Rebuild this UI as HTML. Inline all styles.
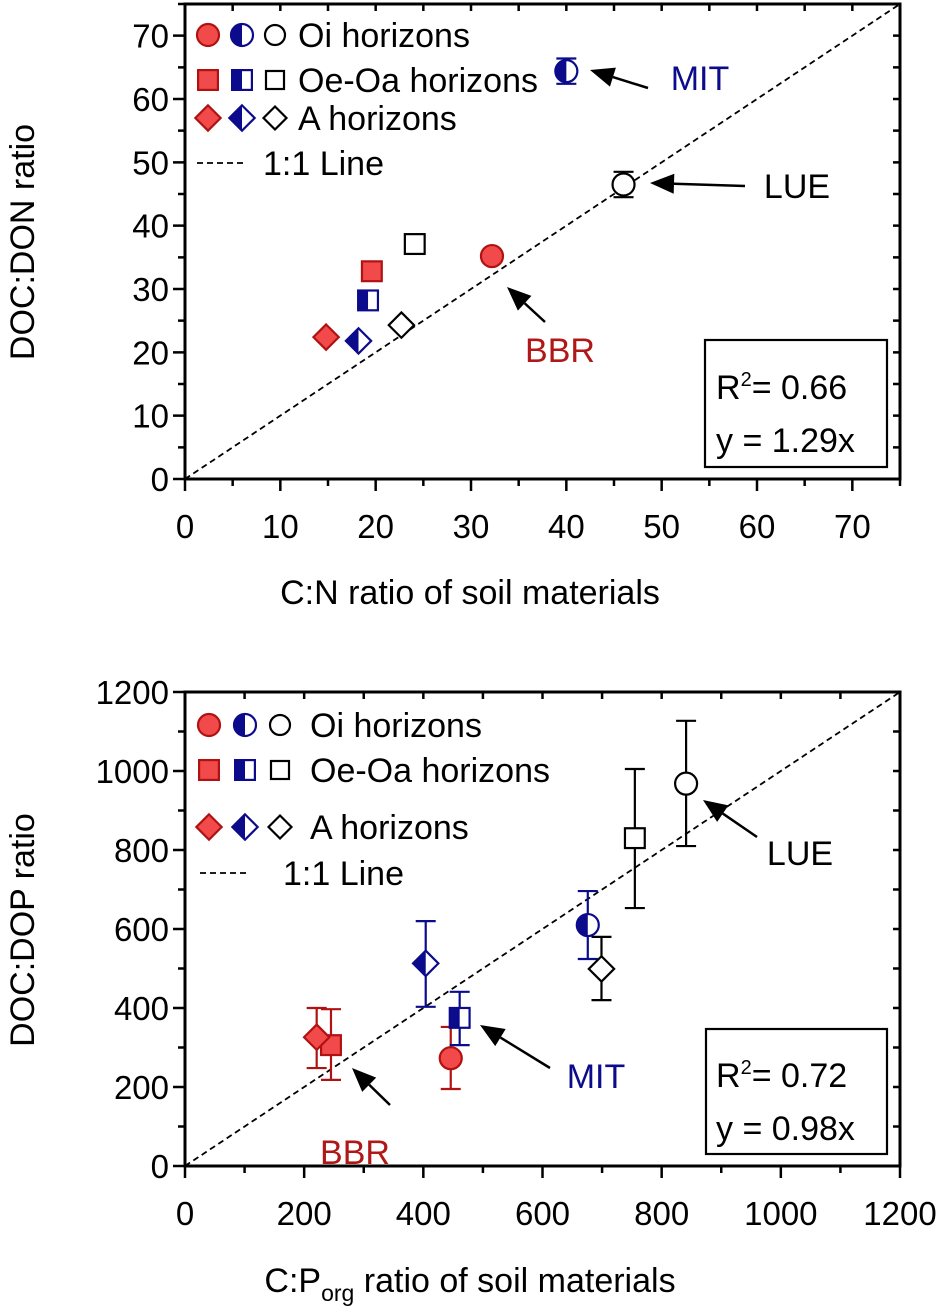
<!DOCTYPE html>
<html><head><meta charset="utf-8"><style>
body{margin:0;background:#fff}
svg{display:block;font-family:"Liberation Sans",Arial,sans-serif}
</style></head><body>
<svg id="s" width="945" height="1311" viewBox="0 0 945 1311"></svg>
<script>
// ---- data: top chart (C:N vs DOC:DON) ----
const topSeries = ["Oi-BBR","Oi-MIT","Oi-LUE","OeOa-BBR","OeOa-MIT","OeOa-LUE","A-BBR","A-MIT","A-LUE"];
const topX = [32.2, 40.0, 46.0, 19.6, 19.2, 24.1, 14.8, 18.2, 22.7];
const topY = [35.2, 64.4, 46.5, 32.8, 28.2, 37.1, 22.4, 21.8, 24.3];
const topErr = [0, 2.0, 2.0, 0, 0, 0, 0, 0, 0];
const topTicks = [0,10,20,30,40,50,60,70];
// ---- data: bottom chart (C:Porg vs DOC:DOP) ----
const botX = [446, 676, 841, 245, 461, 755, 221, 404, 699];
const botY = [273, 610, 968, 306, 375, 830, 326, 513, 499];
const botErrHi = [352, 696, 1127, 397, 441, 1005, 400, 620, 580];
const botErrLo = [195, 524, 810, 218, 306, 653, 248, 403, 420];
const botTicks = [0,200,400,600,800,1000,1200];
const shapes = ["circle","circle","circle","square","square","square","diamond","diamond","diamond"];
const styles = ["red","blue","open","red","blue","open","red","blue","open"];

const NS="http://www.w3.org/2000/svg";
const svg=document.getElementById('s');
function el(tag,attrs,parent,name,inter){const e=document.createElementNS(NS,tag);for(const k in attrs)e.setAttribute(k,attrs[k]);


(parent||svg).appendChild(e);return e;}
const RED="#f24a4a",REDS="#b01212",BLUE="#0b0b8c",LAB="#b01818";
const FS=33;

function marker(g,shape,style,cx,cy,s,name){
  const stroke=style==="red"?REDS:style==="blue"?BLUE:"#000";
  const fill=style==="red"?RED:"#fff";
  const mg=el('g',{},g,name);
  if(shape==="circle"){el('circle',{cx,cy,r:s,fill,stroke,'stroke-width':2.2},mg,name+'-shape');
    if(style==="blue")el('path',{d:`M${cx},${cy-s} A${s},${s} 0 0 0 ${cx},${cy+s} Z`,fill:BLUE},mg,name+'-half');}
  else if(shape==="square"){el('rect',{x:cx-s*0.9,y:cy-s*0.9,width:s*1.8,height:s*1.8,fill,stroke,'stroke-width':2.2},mg,name+'-shape');
    if(style==="blue")el('rect',{x:cx-s*0.9,y:cy-s*0.9,width:s*0.9,height:s*1.8,fill:BLUE},mg,name+'-half');}
  else {const r=s*1.15;el('path',{d:`M${cx},${cy-r}L${cx+r},${cy}L${cx},${cy+r}L${cx-r},${cy}Z`,fill,stroke,'stroke-width':2.2},mg,name+'-shape');
    if(style==="blue")el('path',{d:`M${cx},${cy-r}L${cx},${cy+r}L${cx-r},${cy}Z`,fill:BLUE},mg,name+'-half');}
}
function errbar(g,cx,y1,y2,style,name){
  const c=style==="red"?REDS:style==="blue"?BLUE:"#000";
  const p=`M${cx},${y1}V${y2}M${cx-10},${y1}H${cx+10}M${cx-10},${y2}H${cx+10}`;
  el('path',{d:p,stroke:c,'stroke-width':2.2,fill:'none'},g,name);
}
function chart(o){
  const g=el('g',{},svg,o.name);
  const X=v=>o.x0+(v-o.min)/(o.max-o.min)*(o.x1-o.x0);
  const Y=v=>o.y0-(v-o.min)/(o.max-o.min)*(o.y0-o.y1);
  el('line',{x1:X(o.min),y1:Y(o.min),x2:X(o.max),y2:Y(o.max),stroke:'#000','stroke-width':1.8,'stroke-dasharray':'6,4'},g,'one-to-one-line');
  el('rect',{x:o.x0,y:o.y1,width:o.x1-o.x0,height:o.y0-o.y1,fill:'none',stroke:'#000','stroke-width':3},g,'plot-frame');
  const step=o.ticks[1]-o.ticks[0];
  let tp='';
  for(let v=o.min;v<=o.max+1e-9;v+=step/2){
    const major=Math.abs((v/step)-Math.round(v/step))<1e-6;
    const L=major?12:7;
    tp+=`M${X(v)},${o.y0}v${L}M${o.x0},${Y(v)}h${-L}M${X(v)},${o.y1}v7M${o.x1},${Y(v)}h-7`;
  }
  el('path',{d:tp,stroke:'#000','stroke-width':2.5},g,'axis-ticks');
  o.ticks.forEach(v=>{
    const t=el('text',{x:X(v),y:o.y0+59,'font-size':FS,'text-anchor':'middle'},g,'x-tick-label');t.textContent=v;
    const t2=el('text',{x:o.x0-16,y:Y(v)+12,'font-size':FS,'text-anchor':'end'},g,'y-tick-label');t2.textContent=v;
  });
  o.xs.forEach((xv,i)=>{
    const cx=X(xv),cy=Y(o.ys[i]);
    if(o.hi&&o.hi[i]!==o.ys[i])errbar(g,cx,Y(o.hi[i]),Y(o.lo[i]),styles[i],'error-bar-'+topSeries[i].toLowerCase());
    marker(g,shapes[i],styles[i],cx,cy,11,'point-'+topSeries[i].toLowerCase());
  });
  return {g,X,Y};
}
chart({name:'cn-chart',x0:185,x1:900,y0:479,y1:4,min:0,max:75,ticks:topTicks,xs:topX,ys:topY,
  hi:topY.map((v,i)=>v+topErr[i]),lo:topY.map((v,i)=>v-topErr[i])});
chart({name:'cp-chart',x0:185,x1:900,y0:1166,y1:692,min:0,max:1200,ticks:botTicks,xs:botX,ys:botY,hi:botErrHi,lo:botErrLo});

function text(x,y,s,size,attrs,name){const t=el('text',Object.assign({x,y,'font-size':size},attrs||{}),svg,name);t.textContent=s;return t;}
function legend(rows,sx,tx,lx,ltx,name){
  const labels=["Oi horizons","Oe-Oa horizons","A horizons"];const sh=["circle","square","diamond"];
  rows.slice(0,3).forEach((ry,i)=>{
    ["red","blue","open"].forEach((st,j)=>marker(svg,sh[i],st,sx[j],ry,st==="open"?10:11,name+'-marker'));
    text(tx,ry+12,labels[i],FS+1,{},name+'-label');
  });
  el('line',{x1:lx,y1:rows[3],x2:lx+50,y2:rows[3],stroke:'#000','stroke-width':1.8,'stroke-dasharray':'6,4'},svg,name+'-line-sample');
  text(ltx,rows[3]+12,"1:1 Line",FS+1,{},name+'-label');
}
legend([35,80,118,163],[208,242,275],298,197,263,'legend-top');
legend([725,770,827,873],[209,245,280],310,200,283,'legend-bottom');

function arrow(x1,y1,x2,y2,name){
  const a=Math.atan2(y2-y1,x2-x1),L=24,W=10;
  const bx=x2-L*Math.cos(a),by=y2-L*Math.sin(a);
  el('line',{x1,y1,x2:bx,y2:by,stroke:'#000','stroke-width':2.5},svg,name+'-shaft');
  el('path',{d:`M${x2},${y2}L${bx+W*Math.sin(a)},${by-W*Math.cos(a)}L${bx-W*Math.sin(a)},${by+W*Math.cos(a)}Z`,fill:'#000'},svg,name+'-head');
}
arrow(648,88,590,70,'mit-arrow-top');text(700,90,"MIT",FS+1,{fill:BLUE,'text-anchor':'middle'},'mit-label-top');
arrow(745,186,650,183,'lue-arrow-top');text(797,198,"LUE",FS+1,{'text-anchor':'middle'},'lue-label-top');
arrow(545,322,507,287,'bbr-arrow-top');text(560,362,"BBR",FS+1,{fill:LAB,'text-anchor':'middle'},'bbr-label-top');
arrow(390,1105,352,1068,'bbr-arrow-bottom');text(355,1164,"BBR",FS+1,{fill:LAB,'text-anchor':'middle'},'bbr-label-bottom');
arrow(550,1068,480,1025,'mit-arrow-bottom');text(596,1088,"MIT",FS+1,{fill:BLUE,'text-anchor':'middle'},'mit-label-bottom');
arrow(757,837,703,800,'lue-arrow-bottom');text(800,865,"LUE",FS+1,{'text-anchor':'middle'},'lue-label-bottom');
el('rect',{x:705,y:340,width:182,height:127,fill:'#fff',stroke:'#000','stroke-width':2.2},svg,'stats-box-top');
let t=text(716,399,"R",FS+1,{},'r2-top');let ts=el('tspan',{dy:-13,'font-size':20},t,'sup');ts.textContent="2";ts=el('tspan',{dy:13},t,'rest');ts.textContent="= 0.66";
text(716,452,"y = 1.29x",FS+1,{},'eq-top');
el('rect',{x:706,y:1029,width:181,height:125,fill:'#fff',stroke:'#000','stroke-width':2.2},svg,'stats-box-bottom');
t=text(716,1087,"R",FS+1,{},'r2-bottom');ts=el('tspan',{dy:-13,'font-size':20},t,'sup');ts.textContent="2";ts=el('tspan',{dy:13},t,'rest');ts.textContent="= 0.72";
text(716,1140,"y = 0.98x",FS+1,{},'eq-bottom');
text(470,604,"C:N ratio of soil materials",FS+1,{'text-anchor':'middle'},'x-axis-title-top');
text(0,0,"DOC:DON ratio",FS+1,{'text-anchor':'middle',transform:'translate(34,242) rotate(-90)'},'y-axis-title-top');
t=text(470,1292,"C:P",FS+1,{'text-anchor':'middle'},'x-axis-title-bottom');
ts=el('tspan',{dy:9,'font-size':23},t,'sub');ts.textContent="org";ts=el('tspan',{dy:-9},t,'rest');ts.textContent=" ratio of soil materials";
text(0,0,"DOC:DOP ratio",FS+1,{'text-anchor':'middle',transform:'translate(34,930) rotate(-90)'},'y-axis-title-bottom');
</script>
</body></html>
